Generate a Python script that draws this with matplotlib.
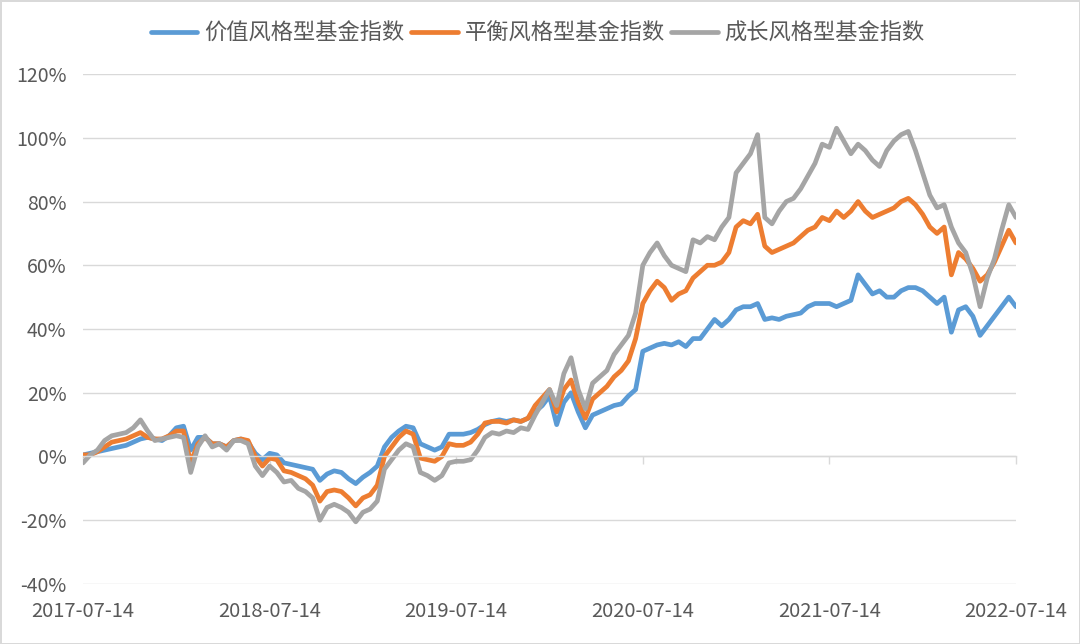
import numpy as np
import pandas as pd
import matplotlib
matplotlib.use("Agg")
import matplotlib.pyplot as plt
import matplotlib.dates as mdates
from matplotlib.ticker import FuncFormatter

plt.rcParams['font.family'] = ['Noto Sans CJK SC', 'DejaVu Sans']

# series names
names = ['价值风格型基金指数', '平衡风格型基金指数', '成长风格型基金指数']
colors = ['#5B9BD5', '#ED7D31', '#A5A5A5']

# sampled roughly every two weeks, cumulative return in %
value = [0.5, 1, 1.5, 2, 2.5, 3, 3.5, 4.5, 5.5, 6,
         5.5, 5, 6.5, 9, 9.5, 2, 6, 6, 4, 4,
         3, 5, 5.5, 4.5, 1, -1, 1, 0.5, -2, -2.5,
         -3, -3.5, -4, -7.5, -5.5, -4.5, -5, -7, -8.5, -6.5,
         -5, -3, 3, 6, 8, 9.5, 9, 4, 3, 2,
         3, 7, 7, 7, 7.5, 8.5, 10, 11, 11.5, 11,
         11.5, 11, 12, 14, 16, 19, 10, 17, 20, 14,
         9, 13, 14, 15, 16, 16.5, 19, 21, 33, 34,
         35, 35.5, 35, 36, 34.5, 37, 37, 40, 43, 41,
         43, 46, 47, 47, 48, 43, 43.5, 43, 44, 44.5,
         45, 47, 48, 48, 48, 47, 48, 49, 57, 54,
         51, 52, 50, 50, 52, 53, 53, 52, 50, 48,
         50, 39, 46, 47, 44, 38, 41, 44, 47, 50,
         47]
balanced = [0.5, 0.5, 1.5, 3, 4.5, 5, 5.5, 6.5, 7.5, 6,
            5.5, 5.5, 6.5, 8, 8, -2, 4, 6, 4, 4,
            3, 5, 5.5, 5, 0, -3, -0.5, -1, -4.5, -5,
            -6, -7, -9, -14, -11, -10.5, -11, -13, -15.5, -13,
            -12, -9, 0, 3, 6, 8, 7, -0.5, -1, -1.5,
            0, 4, 3.5, 3.5, 4.5, 7, 10.5, 11, 11, 10.5,
            11.5, 11, 12, 16, 18.5, 21, 14, 21, 24, 17,
            12, 18, 20, 22, 25, 27, 30, 37, 48, 52,
            55, 53, 49, 51, 52, 56, 58, 60, 60, 61,
            64, 72, 74, 73, 76, 66, 64, 65, 66, 67,
            69, 71, 72, 75, 74, 77, 75, 77, 80, 77,
            75, 76, 77, 78, 80, 81, 79, 76, 72, 70,
            72, 57, 64, 62, 59, 55, 57, 61, 66, 71,
            67]
growth = [-2, 0.5, 2, 5, 6.5, 7, 7.5, 9, 11.5, 8,
          5, 5.5, 6, 6.5, 6, -5, 3, 6.5, 3, 4,
          2, 5, 5, 4, -3, -6, -3, -5, -8, -7.5,
          -10, -11, -13, -20, -16, -15, -16, -17.5, -20.5, -17.5,
          -16.5, -14, -4, -1, 2, 4, 3, -5, -6, -7.5,
          -6, -2, -1.5, -1.5, -1, 2, 6, 7.5, 7, 8,
          7.5, 9, 8.5, 13, 17, 21, 16, 26, 31, 21,
          15, 23, 25, 27, 32, 35, 38, 45, 60, 64,
          67, 63, 60, 59, 58, 68, 67, 69, 68, 72,
          75, 89, 92, 95, 101, 75, 73, 77, 80, 81,
          84, 88, 92, 98, 97, 103, 99, 95, 98, 96,
          93, 91, 96, 99, 101, 102, 96, 89, 82, 78,
          79, 72, 67, 64, 57, 47, 56, 62, 71, 79,
          75]

dates = pd.date_range('2017-07-14', '2022-07-14', periods=len(value))
tick_dates = pd.to_datetime(['2017-07-14', '2018-07-14', '2019-07-14',
                             '2020-07-14', '2021-07-14', '2022-07-14'])

fig = plt.figure(figsize=(10.8, 6.44), dpi=100)
fig.patch.set_edgecolor('#D9D9D9')
fig.patch.set_linewidth(2)
ax = fig.add_axes([0.0769, 0.0932, 0.8638, 0.7918])

for series, name, c in zip([value, balanced, growth], names, colors):
    ax.plot(dates, series, color=c, lw=3.4, label=name,
            solid_joinstyle='round', solid_capstyle='round')

ax.set_xlim(tick_dates[0], tick_dates[-1])
ax.set_ylim(-40, 120)
ax.set_yticks(np.arange(-40, 121, 20))
ax.yaxis.set_major_formatter(FuncFormatter(lambda v, p: f'{v:.0f}%'))
ax.grid(axis='y', color='#D9D9D9', lw=1)
ax.set_axisbelow(True)

for s in ['top', 'right', 'left']:
    ax.spines[s].set_visible(False)
# category axis crosses at zero, labels stay at the bottom
ax.spines['bottom'].set_position(('data', 0))
ax.spines['bottom'].set_color('#D9D9D9')
ax.spines['bottom'].set_linewidth(1)

ax.set_xticks(tick_dates)
ax.xaxis.set_major_formatter(mdates.DateFormatter('%Y-%m-%d'))
ax.tick_params(axis='x', length=6, color='#D9D9D9', width=1, pad=98,
               labelsize=14.5, labelcolor='#595959')
ax.tick_params(axis='y', length=0, pad=12, labelsize=14, labelcolor='#595959')

fig.legend(loc='center', bbox_to_anchor=(0.498, 0.949), ncol=3, frameon=False,
           fontsize=16, handlelength=2.1, handletextpad=0.3, columnspacing=0.3,
           labelcolor='#595959')

fig.savefig('out.png', dpi=100)
